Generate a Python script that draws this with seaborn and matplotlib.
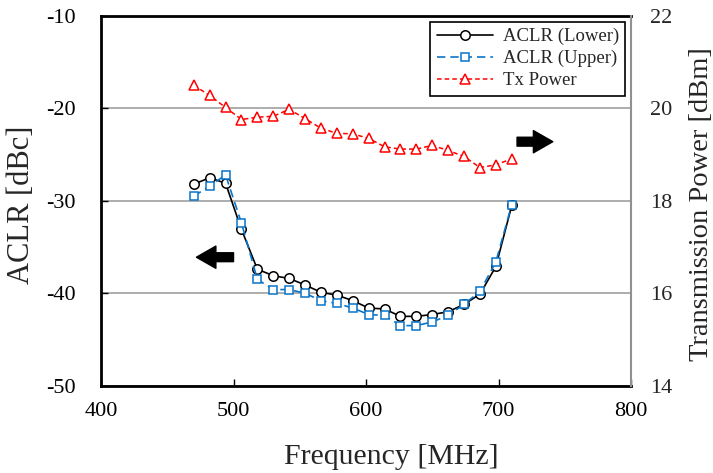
import matplotlib
matplotlib.use("Agg")
import matplotlib.pyplot as plt
import seaborn as sns
import numpy as np
import pandas as pd

freq = [470, 482, 494, 506, 518, 530, 542, 554, 566, 578, 590,
        602, 614, 626, 638, 650, 662, 674, 686, 698, 710]
aclr_lower = [-28.2, -27.5, -28.1, -33.1, -37.4, -38.1, -38.4, -39.1, -39.9, -40.2, -40.8,
              -41.6, -41.7, -42.5, -42.5, -42.3, -42.0, -41.2, -40.1, -37.1, -30.5]
aclr_upper = [-29.5, -28.4, -27.2, -32.4, -38.5, -39.6, -39.6, -40.0, -40.8, -41.1, -41.6,
              -42.3, -42.4, -43.5, -43.5, -43.1, -42.4, -41.2, -39.8, -36.6, -30.4]
tx_power = [20.50, 20.28, 20.02, 19.76, 19.81, 19.83, 19.98, 19.78, 19.57, 19.46, 19.45,
            19.35, 19.17, 19.12, 19.12, 19.20, 19.09, 18.96, 18.72, 18.78, 18.91]

x_ticks = [400, 500, 600, 700, 800]
left_ticks = [-50, -40, -30, -20, -10]
right_ticks = [14, 16, 18, 20, 22]

sns.set_style("white")
plt.rcParams['font.family'] = ['Liberation Serif', 'DejaVu Serif']
plt.rcParams['axes.unicode_minus'] = False

fig = plt.figure(figsize=(7.13, 4.73), dpi=100)
ax = fig.add_axes([0.1417, 0.1846, 0.7433, 0.7816])
ax2 = ax.twinx()

df = pd.DataFrame({"freq": freq, "lower": aclr_lower, "upper": aclr_upper, "tx": tx_power})

blue = "#0A74C8"
sns.lineplot(data=df, x="freq", y="lower", ax=ax, color="black", lw=1.2,
             marker="o", markersize=6.8, markerfacecolor="white", markeredgecolor="black",
             markeredgewidth=1.1, label="ACLR (Lower)", zorder=4)
sns.lineplot(data=df, x="freq", y="upper", ax=ax, color=blue, lw=1.2,
             marker="s", markersize=6.3, markerfacecolor="white", markeredgecolor=blue,
             markeredgewidth=1.1, label="ACLR (Upper)", zorder=5)
ax.get_lines()[1].set_dashes([5, 3])
sns.lineplot(data=df, x="freq", y="tx", ax=ax2, color="red", lw=1.1,
             marker="^", markersize=6.8, markerfacecolor="white", markeredgecolor="red",
             markeredgewidth=1.1, label="Tx Power", zorder=5)
ax2.get_lines()[0].set_dashes([3, 2])

ax.set_xlim(400, 800)
ax.set_ylim(-50, -10)
ax2.set_ylim(14, 22)
ax.set_xticks(x_ticks)
ax.set_yticks(left_ticks)
ax2.set_yticks(right_ticks)

ax.yaxis.grid(True, color="#A0A0A0", lw=1.2)
ax.xaxis.grid(False)
ax2.grid(False)
ax.set_axisbelow(True)

ax.tick_params(axis='x', direction='in', length=5, width=1, labelsize=16, pad=12,
               bottom=True, colors='black')
ax.tick_params(axis='y', direction='in', length=5, width=1, labelsize=16, pad=18.5,
               left=True, colors='black')
ax2.tick_params(axis='y', direction='in', length=0, labelsize=16, pad=13.5, right=True)

ax.set_xlabel("Frequency [MHz]", fontsize=21.5)
ax.set_ylabel("ACLR [dBc]", fontsize=22)
ax2.set_ylabel("Transmission Power [dBm]", fontsize=20.5)
ax.xaxis.set_label_coords(0.547, -0.157)
ax.yaxis.set_label_coords(-0.122, 0.49)
ax2.yaxis.set_label_coords(1.11, 0.49)

for side in ["left", "bottom", "top"]:
    ax.spines[side].set_color("black")
    ax.spines[side].set_linewidth(2)
ax.spines["right"].set_visible(False)
for side in ["left", "bottom", "top"]:
    ax2.spines[side].set_visible(False)
ax2.spines["right"].set_color("#909090")
ax2.spines["right"].set_linewidth(1.5)

if ax.get_legend():
    ax.get_legend().remove()
if ax2.get_legend():
    ax2.get_legend().remove()
h1, l1 = ax.get_legend_handles_labels()
h2, l2 = ax2.get_legend_handles_labels()
leg = ax2.legend(h1 + h2, l1 + l2, loc="upper right", fontsize=13.5, frameon=True,
                 fancybox=False, edgecolor="black", framealpha=1, handlelength=3.0,
                 borderaxespad=0.3, labelspacing=0.25, borderpad=0.35, handletextpad=0.5)
leg.get_frame().set_linewidth(1.2)

arrow_style = "simple,head_length=0.7,head_width=0.8,tail_width=0.32"
ax.annotate("", xy=(472, -36.1), xytext=(500, -36.1),
            arrowprops=dict(arrowstyle=arrow_style, color="black", mutation_scale=20, shrinkA=0, shrinkB=0))
ax.annotate("", xy=(741, -23.6), xytext=(714, -23.6),
            arrowprops=dict(arrowstyle=arrow_style, color="black", mutation_scale=20, shrinkA=0, shrinkB=0))

fig.savefig("out.png", dpi=100)
